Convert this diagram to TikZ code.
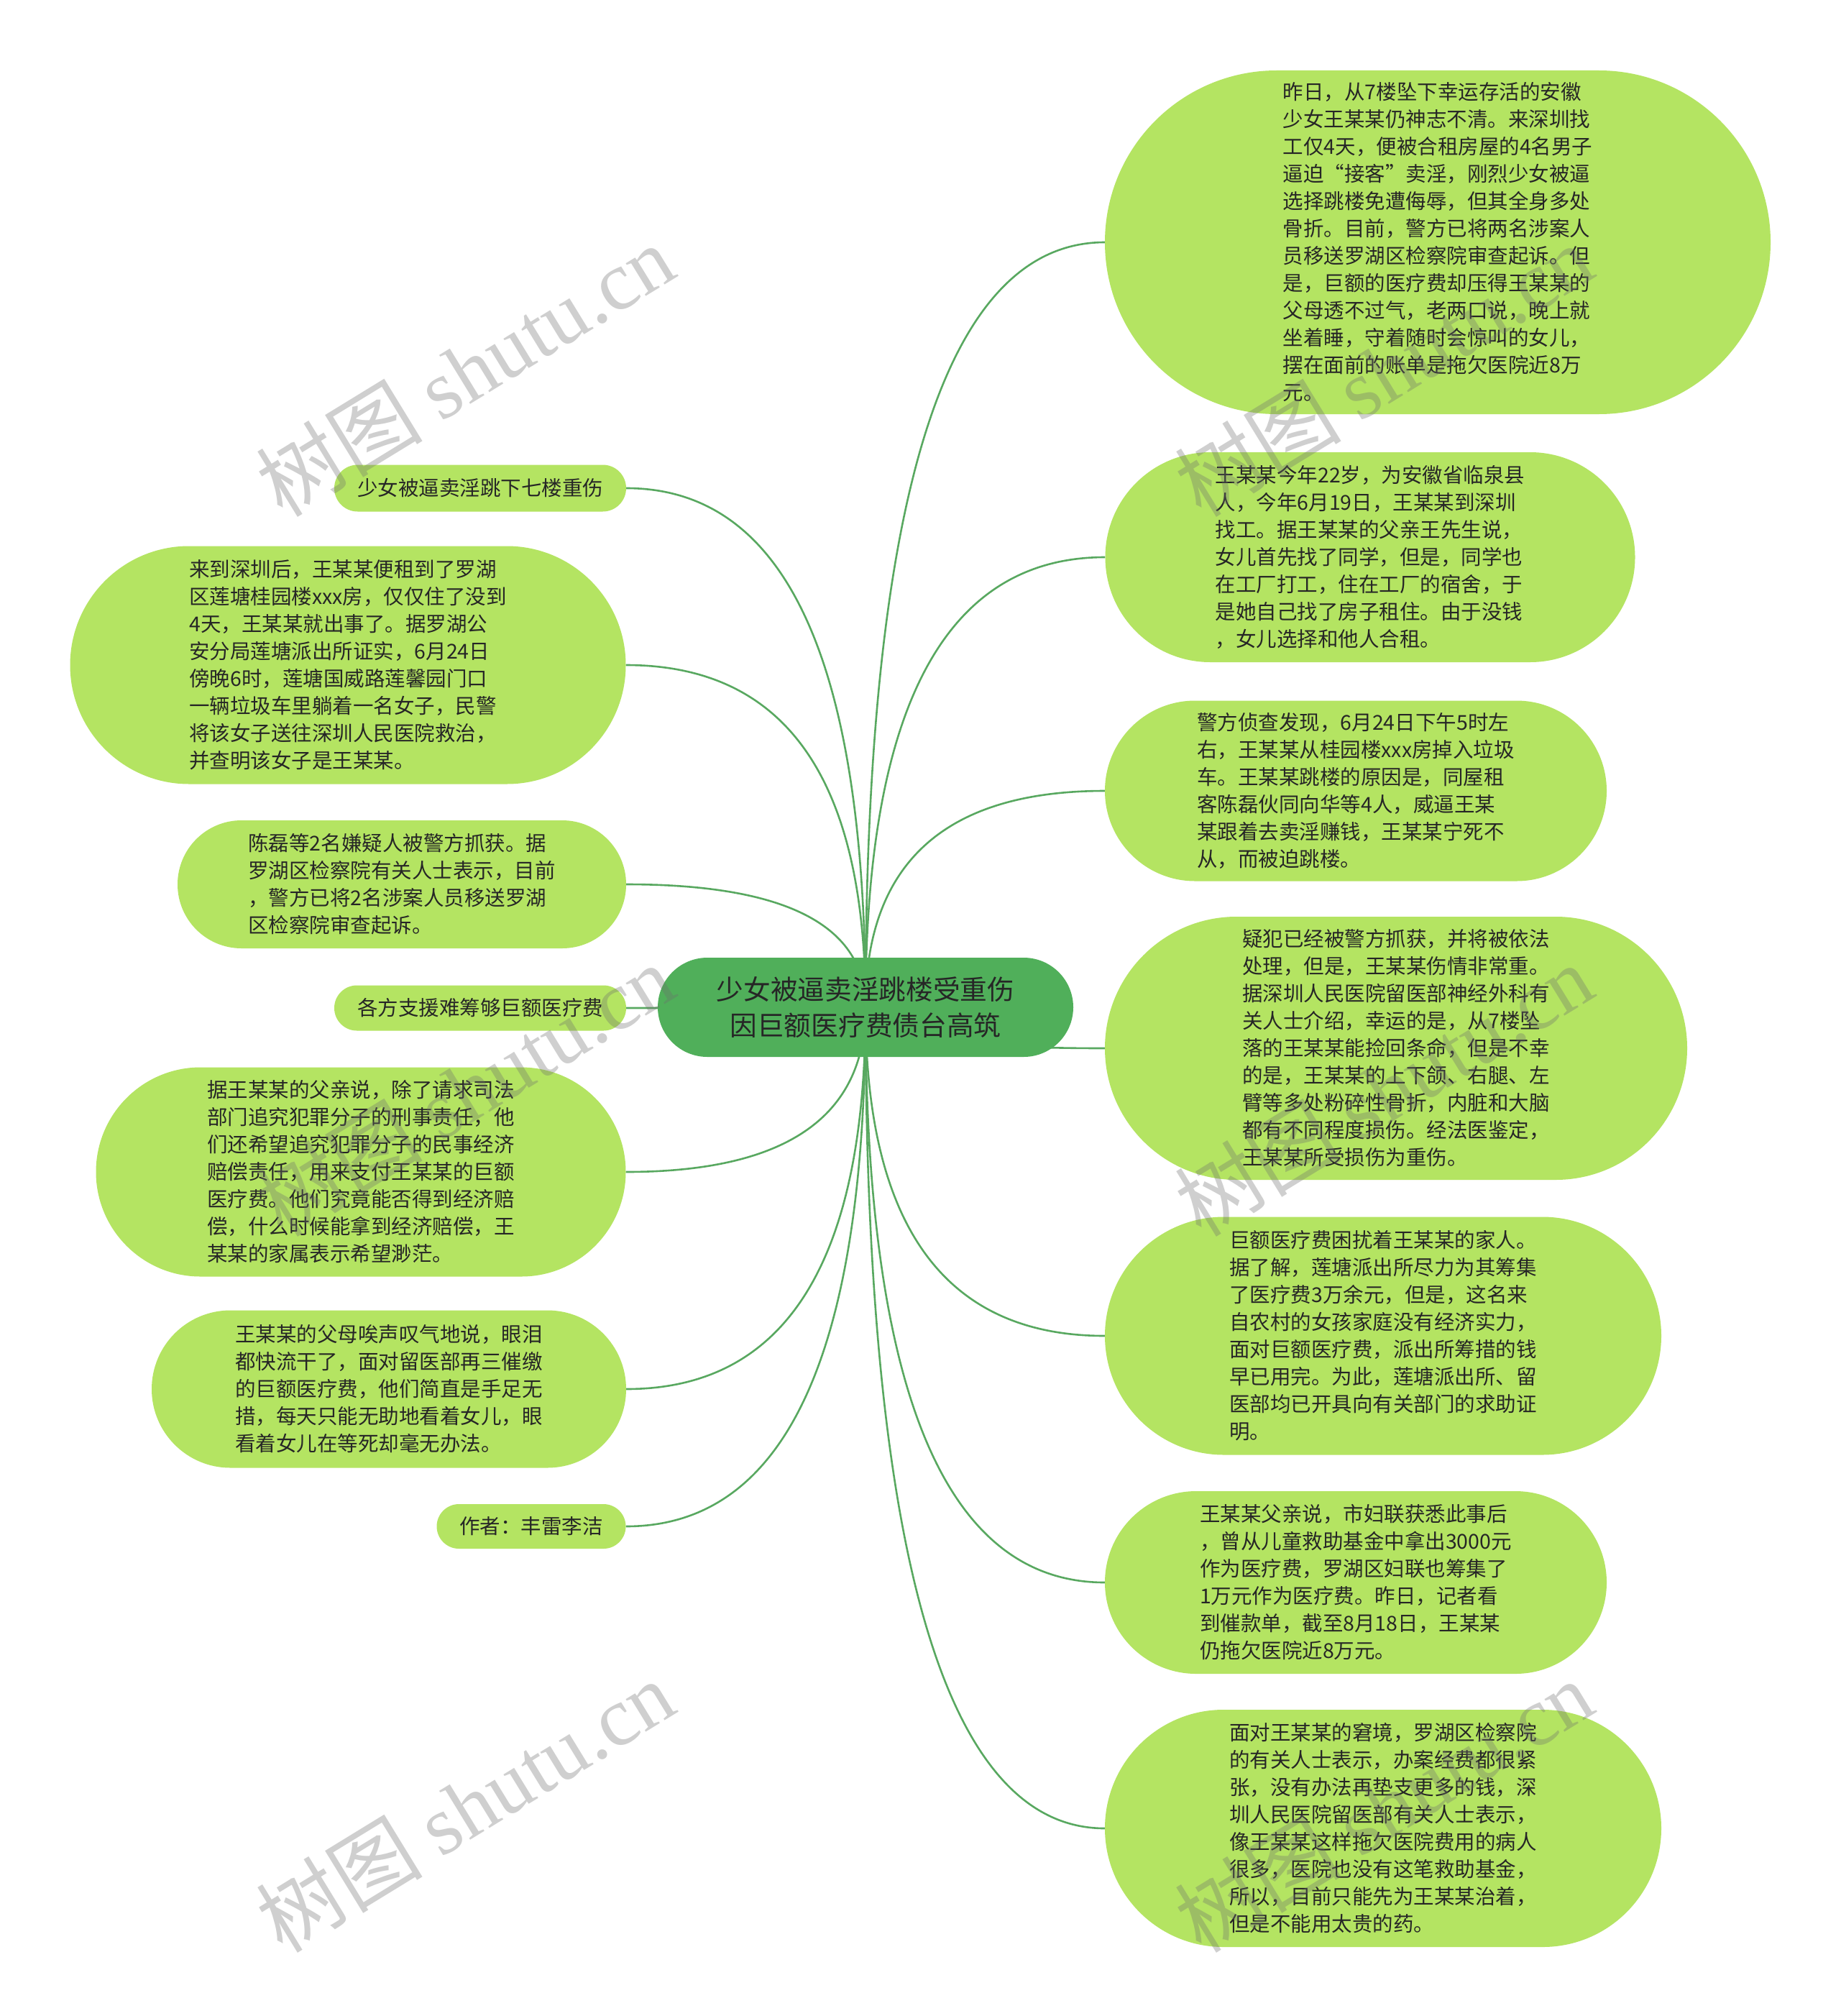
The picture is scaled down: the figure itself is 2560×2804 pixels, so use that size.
\documentclass[tikz,border=0pt]{standalone}
\usepackage{fontspec}
\setmainfont{Noto Sans CJK SC}
\newfontfamily\wmlatin{Liberation Serif}
\usetikzlibrary{calc,backgrounds}
\definecolor{leafc}{RGB}{180,228,98}
\definecolor{rootc}{RGB}{80,175,90}
\definecolor{linkc}{RGB}{88,168,96}
\definecolor{txtc}{RGB}{38,38,38}
\definecolor{wmc}{RGB}{110,110,110}
\begin{document}
\begin{tikzpicture}[x=1pt,y=-1pt,
  box/.style 2 args={minimum width=#1pt, minimum height=#2pt, rounded corners=#2pt*0.5},
  leaf/.style={fill=leafc, text=txtc, align=left, inner sep=0pt, font=\fontsize{28.5}{38}\selectfont},
  root/.style={fill=rootc, text=txtc, align=center, inner sep=0pt, font=\fontsize{37.7}{50}\selectfont},
  link/.style={draw=linkc, line width=2.6pt},
  wm/.style={text=wmc, opacity=0.33, rotate=31.5, inner sep=0pt, font=\fontsize{116}{116}\selectfont}]
\useasboundingbox (0,0) rectangle (2560,2804);

\node[root, box={578}{138}] (c) at (1204,1401) {少女被逼卖淫跳楼受重伤\\因巨额医疗费债台高筑};

\node[leaf, box={926}{478}] (r1) at (2000,337) {昨日，从7楼坠下幸运存活的安徽\\少女王某某仍神志不清。来深圳找\\工仅4天，便被合租房屋的4名男子\\逼迫“接客”卖淫，刚烈少女被逼\\选择跳楼免遭侮辱，但其全身多处\\骨折。目前，警方已将两名涉案人\\员移送罗湖区检察院审查起诉。但\\是，巨额的医疗费却压得王某某的\\父母透不过气，老两口说，晚上就\\坐着睡，守着随时会惊叫的女儿，\\摆在面前的账单是拖欠医院近8万\\元。};
\node[leaf, box={737}{292}] (r2) at (1906,775) {王某某今年22岁，为安徽省临泉县\\人，今年6月19日，王某某到深圳\\找工。据王某某的父亲王先生说，\\女儿首先找了同学，但是，同学也\\在工厂打工，住在工厂的宿舍，于\\是她自己找了房子租住。由于没钱\\，女儿选择和他人合租。};
\node[leaf, box={698}{251}] (r3) at (1886,1100) {警方侦查发现，6月24日下午5时左\\右，王某某从桂园楼xxx房掉入垃圾\\车。王某某跳楼的原因是，同屋租\\客陈磊伙同向华等4人，威逼王某\\某跟着去卖淫赚钱，王某某宁死不\\从，而被迫跳楼。};
\node[leaf, box={810}{366}] (r4) at (1942,1458) {疑犯已经被警方抓获，并将被依法\\处理，但是，王某某伤情非常重。\\据深圳人民医院留医部神经外科有\\关人士介绍，幸运的是，从7楼坠\\落的王某某能捡回条命，但是不幸\\的是，王某某的上下颌、右腿、左\\臂等多处粉碎性骨折，内脏和大脑\\都有不同程度损伤。经法医鉴定，\\王某某所受损伤为重伤。};
\node[leaf, box={774}{331}] (r5) at (1924,1858) {巨额医疗费困扰着王某某的家人。\\据了解，莲塘派出所尽力为其筹集\\了医疗费3万余元，但是，这名来\\自农村的女孩家庭没有经济实力，\\面对巨额医疗费，派出所筹措的钱\\早已用完。为此，莲塘派出所、留\\医部均已开具向有关部门的求助证\\明。};
\node[leaf, box={698}{254}] (r6) at (1886,2201) {王某某父亲说，市妇联获悉此事后\\，曾从儿童救助基金中拿出3000元\\作为医疗费，罗湖区妇联也筹集了\\1万元作为医疗费。昨日，记者看\\到催款单，截至8月18日，王某某\\仍拖欠医院近8万元。};
\node[leaf, box={774}{330}] (r7) at (1924,2543) {面对王某某的窘境，罗湖区检察院\\的有关人士表示，办案经费都很紧\\张，没有办法再垫支更多的钱，深\\圳人民医院留医部有关人士表示，\\像王某某这样拖欠医院费用的病人\\很多，医院也没有这笔救助基金，\\所以，目前只能先为王某某治着，\\但是不能用太贵的药。};

\node[leaf, box={406}{65}] (l1) at (668,679) {少女被逼卖淫跳下七楼重伤};
\node[leaf, box={773}{331}] (l2) at (484,925) {来到深圳后，王某某便租到了罗湖\\区莲塘桂园楼xxx房，仅仅住了没到\\4天，王某某就出事了。据罗湖公\\安分局莲塘派出所证实，6月24日\\傍晚6时，莲塘国威路莲馨园门口\\一辆垃圾车里躺着一名女子，民警\\将该女子送往深圳人民医院救治，\\并查明该女子是王某某。};
\node[leaf, box={624}{178}] (l3) at (559,1230) {陈磊等2名嫌疑人被警方抓获。据\\罗湖区检察院有关人士表示，目前\\，警方已将2名涉案人员移送罗湖\\区检察院审查起诉。};
\node[leaf, box={406}{63}] (l4) at (668,1402) {各方支援难筹够巨额医疗费};
\node[leaf, box={737}{291}] (l5) at (502,1630) {据王某某的父亲说，除了请求司法\\部门追究犯罪分子的刑事责任，他\\们还希望追究犯罪分子的民事经济\\赔偿责任，用来支付王某某的巨额\\医疗费。他们究竟能否得到经济赔\\偿，什么时候能拿到经济赔偿，王\\某某的家属表示希望渺茫。};
\node[leaf, box={660}{219}] (l6) at (541,1932) {王某某的父母唉声叹气地说，眼泪\\都快流干了，面对留医部再三催缴\\的巨额医疗费，他们简直是手足无\\措，每天只能无助地看着女儿，眼\\看着女儿在等死却毫无办法。};
\node[leaf, box={263}{62}] (l7) at (739,2123) {作者：丰雷李洁};

\begin{pgfonlayer}{background}
\fill[white] (0,0) rectangle (2560,2804);
\foreach \n in {r1,r2,r3,r4,r5,r6,r7}
  \draw[link] (c.center) .. controls ($(c.center)!0.667!(c.center |- \n.west)$) and ($(\n.west)!0.667!(c.center |- \n.west)$) .. (\n.west);
\foreach \n in {l1,l2,l3,l4,l5,l6,l7}
  \draw[link] (c.center) .. controls ($(c.center)!0.667!(c.center |- \n.east)$) and ($(\n.east)!0.667!(c.center |- \n.east)$) .. (\n.east);
\end{pgfonlayer}

\node[wm] (w1) at (647,515) {树图 {\wmlatin shutu.cn}};
\node[wm] (w2) at (1925,515) {树图 {\wmlatin shutu.cn}};
\node[wm] (w3) at (647,1516) {树图 {\wmlatin shutu.cn}};
\node[wm] (w4) at (1925,1516) {树图 {\wmlatin shutu.cn}};
\node[wm] (w5) at (647,2512) {树图 {\wmlatin shutu.cn}};
\node[wm] (w6) at (1925,2512) {树图 {\wmlatin shutu.cn}};
\end{tikzpicture}
\end{document}
